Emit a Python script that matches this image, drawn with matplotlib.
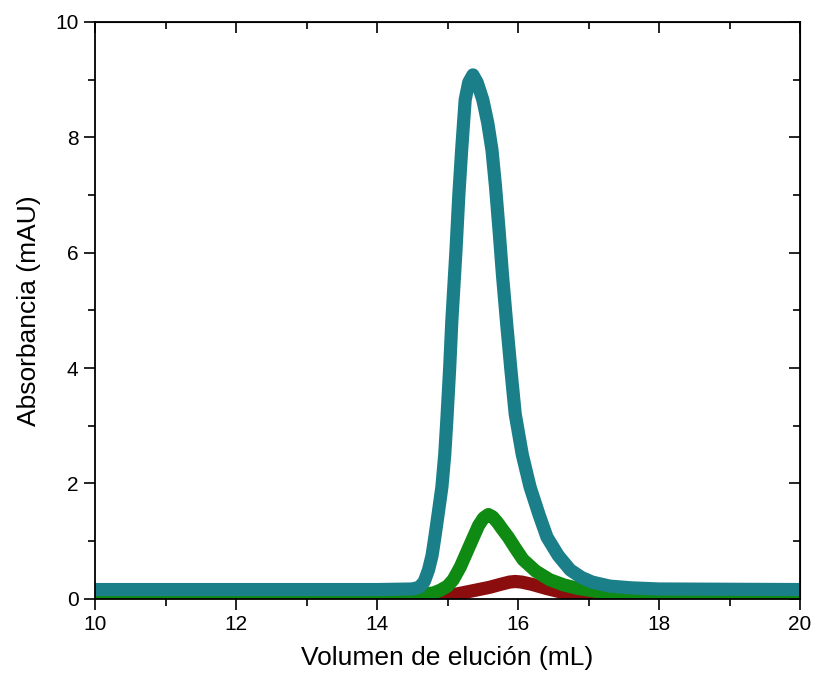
import numpy as np
import matplotlib.pyplot as plt
from matplotlib.ticker import MultipleLocator

plt.rcParams['font.family'] = ['Liberation Sans', 'DejaVu Sans']

# Elution traces (volume in mL, absorbance in mAU)
teal_vol = [10.0, 14.0, 14.5, 14.6, 14.67, 14.73, 14.78, 14.82, 14.87, 14.92,
            14.96, 14.99, 15.03, 15.06, 15.12, 15.16, 15.2, 15.25, 15.3, 15.36,
            15.42, 15.5, 15.57, 15.63, 15.68, 15.73, 15.78, 15.84, 15.9, 15.96,
            16.06, 16.17, 16.3, 16.41, 16.57, 16.74, 16.9, 17.05, 17.3, 17.6,
            18.0, 20.0]
teal_abs = [0.16, 0.16, 0.17, 0.2, 0.3, 0.5, 0.75, 1.07, 1.5, 1.94,
            2.5, 3.1, 4.0, 4.8, 6.05, 7.0, 7.78, 8.65, 8.95, 9.08,
            8.95, 8.65, 8.25, 7.78, 7.15, 6.4, 5.6, 4.75, 3.95, 3.2,
            2.5, 1.94, 1.45, 1.07, 0.75, 0.5, 0.37, 0.29, 0.22, 0.19,
            0.17, 0.16]

green_vol = [10.0, 14.6, 14.8, 14.9, 15.0, 15.08, 15.18, 15.27, 15.36, 15.44,
             15.51, 15.58, 15.64, 15.71, 15.78, 15.86, 15.96, 16.07, 16.25,
             16.45, 16.65, 16.85, 17.16, 17.6, 20.0]
green_abs = [0.08, 0.08, 0.1, 0.15, 0.22, 0.33, 0.55, 0.8, 1.05, 1.27,
             1.4, 1.46, 1.42, 1.32, 1.2, 1.07, 0.88, 0.68, 0.48,
             0.33, 0.24, 0.18, 0.12, 0.09, 0.08]

red_vol = [10.0, 14.9, 15.03, 15.2, 15.4, 15.6, 15.75, 15.88, 15.96, 16.05,
           16.2, 16.4, 16.6, 16.8, 17.0, 17.3, 20.0]
red_abs = [0.04, 0.04, 0.06, 0.1, 0.15, 0.2, 0.25, 0.29, 0.3, 0.29,
           0.25, 0.18, 0.12, 0.08, 0.05, 0.04, 0.04]

fig = plt.figure(figsize=(8.13, 6.82), dpi=100)
ax = fig.add_axes([0.117, 0.122, 0.867, 0.846])

style = dict(lw=9.5, solid_capstyle='butt', solid_joinstyle='round')
ax.plot(red_vol, red_abs, color='#8B0D0D', zorder=1, **style)
ax.plot(green_vol, green_abs, color='#0F8A12', zorder=2, **style)
ax.plot(teal_vol, teal_abs, color='#1A7F89', zorder=3, **style)

ax.set_xlim(10, 20)
ax.set_ylim(0, 10)
ax.xaxis.set_major_locator(MultipleLocator(2))
ax.xaxis.set_minor_locator(MultipleLocator(1))
ax.yaxis.set_major_locator(MultipleLocator(2))
ax.yaxis.set_minor_locator(MultipleLocator(1))

for side in ax.spines.values():
    side.set_linewidth(1.3)
    side.set_zorder(5)

ax.tick_params(which='both', direction='out', top=False, right=False, width=1.2,
               labelsize=15, pad=4)
ax.tick_params(which='major', length=8)
ax.tick_params(which='minor', length=5)

# inward ticks on the top and right frame
twx = ax.secondary_xaxis('top')
twx.xaxis.set_major_locator(MultipleLocator(2))
twx.xaxis.set_minor_locator(MultipleLocator(1))
twx.tick_params(which='both', direction='in', width=1.2, labeltop=False)
twx.tick_params(which='major', length=8)
twx.tick_params(which='minor', length=5)
twy = ax.secondary_yaxis('right')
twy.yaxis.set_major_locator(MultipleLocator(2))
twy.yaxis.set_minor_locator(MultipleLocator(1))
twy.tick_params(which='both', direction='in', width=1.2, labelright=False)
twy.tick_params(which='major', length=8)
twy.tick_params(which='minor', length=5)

ax.set_xlabel('Volumen de elución (mL)', fontsize=19, labelpad=8)
ax.set_ylabel('Absorbancia (mAU)', fontsize=19, labelpad=10)

fig.savefig('out.png', dpi=100)
